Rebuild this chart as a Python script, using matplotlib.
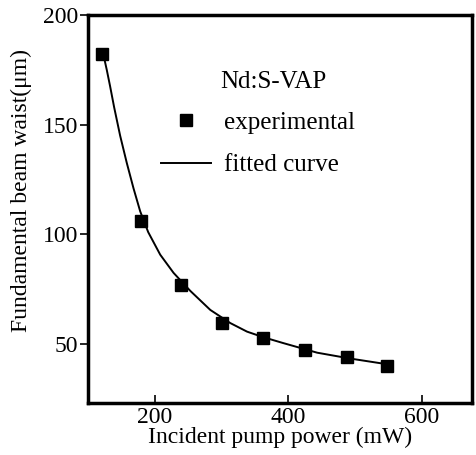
import numpy as np
import matplotlib
matplotlib.use("Agg")
import matplotlib.pyplot as plt

# experimental points
power_exp = [121, 179, 239, 301, 362, 425, 487, 548]
waist_exp = [182, 106, 77, 59.5, 52.7, 47.3, 44, 40]

# fitted curve, sampled along the drawn line
power_fit = [124, 128, 133, 139, 148, 158, 168, 178, 190, 208, 228, 253, 283, 313,
             338, 362, 392, 443, 493, 542, 548]
waist_fit = [180.5, 175, 167.5, 158, 145, 132.5, 121, 110.5, 101, 90.7, 82.4, 74.2, 65.5, 59.5,
             55.6, 53.1, 50.4, 46.0, 43.3, 41.0, 40.6]

x_ticks = [200, 400, 600]
y_ticks = [50, 100, 150, 200]

plt.rcParams['font.family'] = ['Liberation Serif', 'DejaVu Serif']

fig = plt.figure(figsize=(4.76, 4.55), dpi=100)
ax = fig.add_axes([0.185, 0.114, 0.807, 0.853])

ax.plot(power_fit, waist_fit, color='black', linewidth=1.4, label='fitted curve')
ax.plot(power_exp, waist_exp, linestyle='none', marker='s', markersize=8,
        color='black', label='experimental')

ax.set_xlim(100, 675)
ax.set_ylim(23, 199)
ax.set_xticks(x_ticks)
ax.set_yticks(y_ticks)
ax.tick_params(axis='x', direction='in', length=6, width=1.2, labelsize=17, pad=3)
ax.tick_params(axis='y', direction='out', length=6, width=1.2, labelsize=17, pad=1)
for s in ax.spines.values():
    s.set_linewidth(2.5)

ax.set_xlabel('Incident pump power (mW)', fontsize=17, labelpad=-1)
ax.set_ylabel('Fundamental beam waist(μm)', fontsize=17)
ax.yaxis.set_label_coords(-0.146, 0.549)

ax.text(0.344, 0.827, 'Nd:S-VAP', transform=ax.transAxes, fontsize=18,
        ha='left', va='center')
handles, labels = ax.get_legend_handles_labels()
ax.legend(handles[::-1], labels[::-1], loc='upper left', bbox_to_anchor=(0.19, 0.752),
          frameon=False, fontsize=18, handlelength=2.0, handletextpad=0.5,
          labelspacing=0.8, borderpad=0, borderaxespad=0)

fig.savefig('out.png', dpi=100)
